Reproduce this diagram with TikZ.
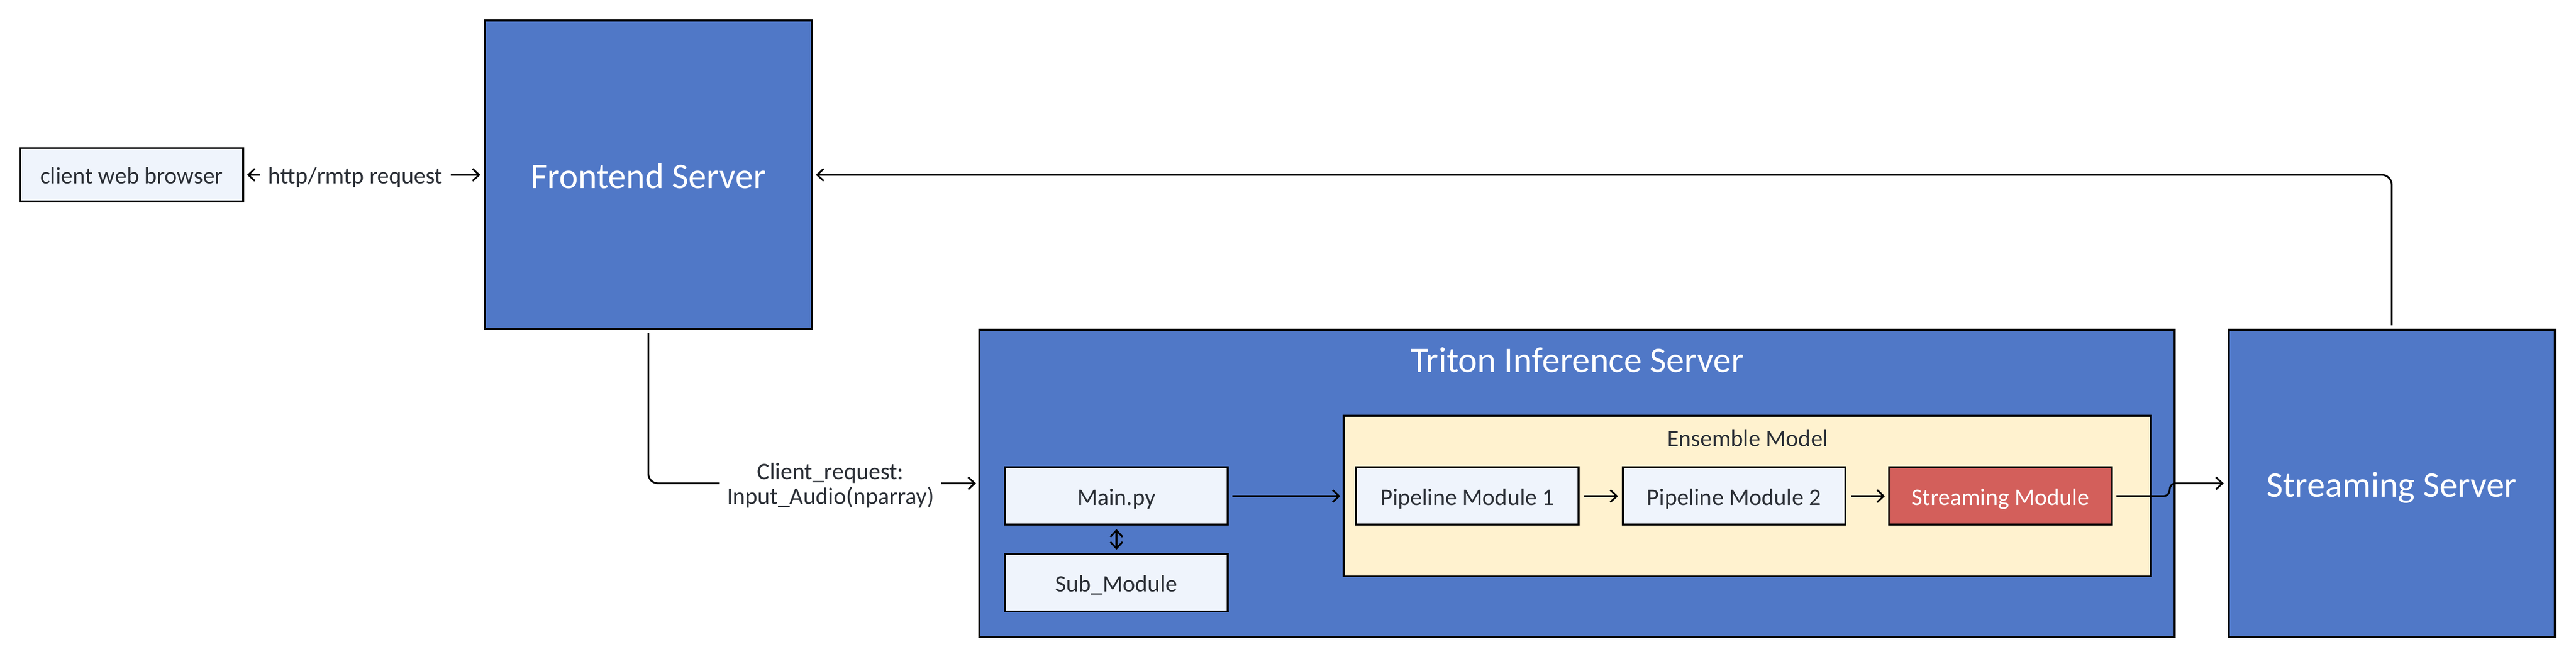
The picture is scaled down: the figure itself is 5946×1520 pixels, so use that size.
\documentclass[tikz,border=0pt]{standalone}
\usepackage{fontspec}
\setmainfont{Carlito}
\usetikzlibrary{arrows.meta}
\definecolor{blueS}{HTML}{5078C7}
\definecolor{lightS}{HTML}{EFF4FC}
\definecolor{ensS}{HTML}{FFF2CF}
\definecolor{redS}{HTML}{D35F5B}
\definecolor{txtS}{HTML}{2B2F36}
\tikzset{
  bigfont/.style={font=\fontsize{8.3}{10}\selectfont},
  smallfont/.style={font=\fontsize{5.45}{5.7}\selectfont},
  bigbox/.style={draw=black, line width=0.45pt, fill=blueS, inner sep=0pt, text=white, bigfont, text height=6.3pt, text depth=0pt},
  smallbox/.style={draw=black, line width=0.45pt, fill=lightS, inner sep=0pt, text=txtS, smallfont, text height=4.2pt, text depth=0pt},
  lbl/.style={text=txtS, smallfont, inner sep=0.5pt},
  conn/.style={line width=0.4pt, -{Straight Barb[length=1.5pt, width=2.8pt, line width=0.4pt]}},
  conn2/.style={line width=0.4pt, {Straight Barb[length=1.5pt, width=2.8pt, line width=0.4pt]}-{Straight Barb[length=1.5pt, width=2.8pt, line width=0.4pt]}}
}
\begin{document}
\begin{tikzpicture}[x=0.1pt,y=-0.1pt]
\useasboundingbox[fill=white] (0,0) rectangle (5946,1520);
% nodes
\node[smallbox, minimum width=51.4pt, minimum height=12.3pt] (browser) at (304,403.5) {client web browser};
\node[bigbox, minimum width=75.5pt, minimum height=71.1pt] (frontend) at (1496.5,403.5) {Frontend Server};
\node[bigbox, minimum width=275.9pt, minimum height=70.9pt] (triton) at (3640.5,1115.5) {};
\node[text=white, bigfont, inner sep=0pt, anchor=base] (tritonlbl) at (3640.5,859) {Triton Inference Server};
\node[bigbox, minimum width=75.3pt, minimum height=70.9pt] (stream) at (5520.5,1115.5) {Streaming Server};
\node[smallbox, minimum width=51.4pt, minimum height=13.2pt] (main) at (2577,1145) {Main.py};
\node[smallbox, minimum width=51.4pt, minimum height=13.3pt] (sub) at (2577,1344.5) {Sub\_Module};
\node[draw=black, line width=0.45pt, fill=ensS, minimum width=186.4pt, minimum height=37pt, inner sep=0pt] (ens) at (4033,1145) {};
\node[lbl, anchor=base] (enslbl) at (4034,1031) {Ensemble Model};
\node[smallbox, minimum width=51.4pt, minimum height=13.2pt] (p1) at (3387,1145) {Pipeline Module 1};
\node[smallbox, minimum width=51.3pt, minimum height=13.2pt] (p2) at (4002.5,1145) {Pipeline Module 2};
\node[smallbox, fill=redS, text=white, minimum width=51.5pt, minimum height=13.2pt] (sm) at (4617.5,1145) {Streaming Module};
% connectors
\draw[conn2, shorten <=0.7pt, shorten >=0.8pt] (browser.east) -- node[lbl, fill=white, inner xsep=1.9pt, inner ysep=0.5pt, text height=4pt, text depth=0pt, pos=0.465] (httplbl) {http/rmtp request} (frontend.west);
\draw[conn, rounded corners=2.2pt, shorten <=0.7pt, shorten >=0.6pt] (frontend.south) |- (triton.west);
\node[lbl, fill=white, align=center, inner sep=1.7pt] (creq) at (1917,1121) {Client\_request:\\Input\_Audio(nparray)};
\draw[conn, shorten <=0.8pt, shorten >=0.5pt] (main.east) -- (ens.west);
\draw[conn2, shorten <=0.8pt, shorten >=0.7pt] (main.south) -- (sub.north);
\draw[conn, shorten <=1pt, shorten >=0.9pt] (p1.east) -- (p2.west);
\draw[conn, shorten <=1.1pt, shorten >=0.7pt] (p2.east) -- (sm.west);
\coordinate (jog) at (5008,1145);
\draw[conn, rounded corners=1.4pt, shorten <=0.8pt, shorten >=0.9pt] (sm.east) -- (jog) -- (jog |- stream.west) -- (stream.west);
\draw[conn, rounded corners=2.3pt, shorten <=0.8pt, shorten >=0.7pt] (stream.north) |- (frontend.east);
\end{tikzpicture}
\end{document}
